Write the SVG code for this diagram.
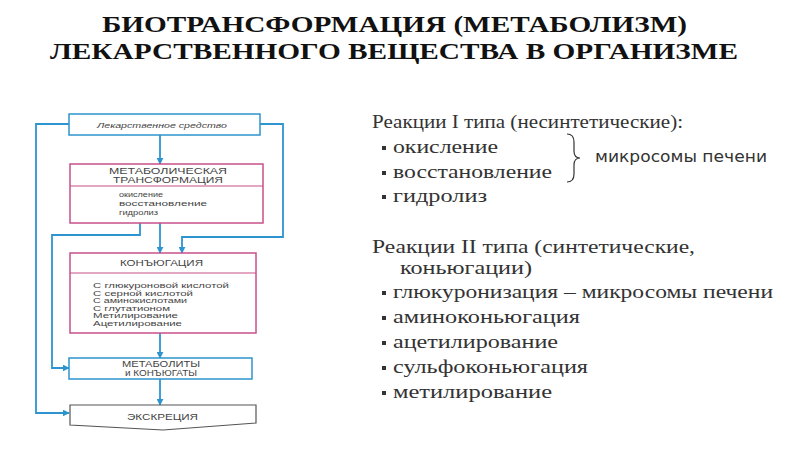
<svg xmlns="http://www.w3.org/2000/svg" width="800" height="450" viewBox="0 0 800 450">
<defs>
<marker id="ah" viewBox="0 0 10 10" refX="9" refY="5" markerWidth="7" markerHeight="7" markerUnits="userSpaceOnUse" orient="auto">
<path d="M0,0 L10,5 L0,10 z" fill="#2e94d0"/>
</marker>
<style>
.h{font-size:8.5px}
.s{font-size:7.5px}
.blue{fill:#fff;stroke:#2e94d0;stroke-width:1.5}
.pink{fill:#fff;stroke:#c8508a;stroke-width:1.5}
.con{fill:none;stroke:#2e94d0;stroke-width:1.8;marker-end:url(#ah)}
.bul{fill:#333}
</style>
</defs>
<rect width="800" height="450" fill="#fff"/>
<g id="title" font-family="Liberation Serif" font-weight="bold" font-size="24" fill="#111">
<text x="102" y="32" textLength="585" lengthAdjust="spacingAndGlyphs">БИОТРАНСФОРМАЦИЯ (МЕТАБОЛИЗМ)</text>
<text x="50" y="59" textLength="688" lengthAdjust="spacingAndGlyphs">ЛЕКАРСТВЕННОГО ВЕЩЕСТВА В ОРГАНИЗМЕ</text>
</g>
<g id="connectors">
<path class="con" d="M160,135 V164"/>
<path class="con" d="M69,124 H36 V413 H69"/>
<path class="con" d="M260,124 H283 V237 H182 V253"/>
<path class="con" d="M160,223 V253"/>
<path class="con" d="M140,223 V235 H52 V368 H69"/>
<path class="con" d="M160,333 V358"/>
<path class="con" d="M160,379 V405"/>
</g>
<g font-family="Liberation Sans" fill="#444">
<g id="lek">
<rect class="blue" x="69" y="114" width="191" height="21"/>
<text x="97" y="127.5" font-style="italic" font-size="8" textLength="130" lengthAdjust="spacingAndGlyphs">Лекарственное средство</text>
</g>
<g id="metab">
<rect class="pink" x="70" y="164" width="193" height="59"/>
<line x1="70" y1="186" x2="263" y2="186" stroke="#c8508a" stroke-width="1.2"/>
<text class="h" x="109" y="173.5" textLength="118" lengthAdjust="spacingAndGlyphs">МЕТАБОЛИЧЕСКАЯ</text>
<text class="h" x="113" y="182.5" textLength="110" lengthAdjust="spacingAndGlyphs">ТРАНСФОРМАЦИЯ</text>
<text class="s" x="119" y="197" textLength="44" lengthAdjust="spacingAndGlyphs">окисление</text>
<text class="s" x="119" y="206" textLength="88" lengthAdjust="spacingAndGlyphs">восстановление</text>
<text class="s" x="119" y="215" textLength="39" lengthAdjust="spacingAndGlyphs">гидролиз</text>
</g>
<g id="conj">
<rect class="pink" x="70" y="253" width="186" height="80"/>
<line x1="70" y1="273" x2="256" y2="273" stroke="#c8508a" stroke-width="1.2"/>
<text class="h" x="120" y="266" textLength="83" lengthAdjust="spacingAndGlyphs">КОНЪЮГАЦИЯ</text>
<text class="s" x="93" y="288" textLength="136" lengthAdjust="spacingAndGlyphs">С глюкуроновой кислотой</text>
<text class="s" x="93" y="295.5" textLength="100" lengthAdjust="spacingAndGlyphs">С серной кислотой</text>
<text class="s" x="93" y="303" textLength="94" lengthAdjust="spacingAndGlyphs">С аминокислотами</text>
<text class="s" x="93" y="310.5" textLength="77" lengthAdjust="spacingAndGlyphs">С глутатионом</text>
<text class="s" x="93" y="318" textLength="85" lengthAdjust="spacingAndGlyphs">Метилирование</text>
<text class="s" x="93" y="325.5" textLength="89" lengthAdjust="spacingAndGlyphs">Ацетилирование</text>
</g>
<g id="metabolites">
<rect class="blue" x="69" y="358" width="183" height="21"/>
<text class="h" x="122" y="367" textLength="78" lengthAdjust="spacingAndGlyphs">МЕТАБОЛИТЫ</text>
<text class="h" x="125" y="376" textLength="72" lengthAdjust="spacingAndGlyphs">и КОНЪЮГАТЫ</text>
</g>
<g id="excretion">
<path d="M70,405 H256 V423 L163,430 L70,425 Z" fill="#fff" stroke="#555" stroke-width="1.2"/>
<text class="h" x="127" y="420" textLength="71" lengthAdjust="spacingAndGlyphs">ЭКСКРЕЦИЯ</text>
</g>
</g>
<g id="type1" font-family="Liberation Serif" font-size="19" fill="#333">
<text x="372" y="128" textLength="311" lengthAdjust="spacingAndGlyphs">Реакции I типа (несинтетические):</text>
<rect class="bul" x="382" y="146" width="4" height="4"/>
<text x="393" y="153" textLength="105" lengthAdjust="spacingAndGlyphs">окисление</text>
<rect class="bul" x="382" y="171" width="4" height="4"/>
<text x="393" y="178" textLength="159" lengthAdjust="spacingAndGlyphs">восстановление</text>
<rect class="bul" x="382" y="195" width="4" height="4"/>
<text x="393" y="202" textLength="94" lengthAdjust="spacingAndGlyphs">гидролиз</text>
<path d="M567,134 Q574,134 574,142 V151 Q574,158 580,158 Q574,158 574,165 V174 Q574,182 567,182" fill="none" stroke="#333" stroke-width="1.2"/>
<text x="595" y="162" font-family="DejaVu Sans" font-size="15" textLength="172" lengthAdjust="spacingAndGlyphs">микросомы печени</text>
</g>
<g id="type2" font-family="Liberation Serif" font-size="19" fill="#333">
<text x="372" y="253" textLength="323" lengthAdjust="spacingAndGlyphs">Реакции II типа (синтетические,</text>
<text x="400" y="274" textLength="132" lengthAdjust="spacingAndGlyphs">коньюгации)</text>
<rect class="bul" x="382" y="291" width="4" height="4"/>
<text x="393" y="298" textLength="380" lengthAdjust="spacingAndGlyphs">глюкуронизация – микросомы печени</text>
<rect class="bul" x="382" y="316" width="4" height="4"/>
<text x="393" y="323" textLength="187" lengthAdjust="spacingAndGlyphs">аминоконьюгация</text>
<rect class="bul" x="382" y="341" width="4" height="4"/>
<text x="393" y="348" textLength="165" lengthAdjust="spacingAndGlyphs">ацетилирование</text>
<rect class="bul" x="382" y="366" width="4" height="4"/>
<text x="393" y="373" textLength="195" lengthAdjust="spacingAndGlyphs">сульфоконьюгация</text>
<rect class="bul" x="382" y="391" width="4" height="4"/>
<text x="393" y="398" textLength="159" lengthAdjust="spacingAndGlyphs">метилирование</text>
</g>
</svg>
